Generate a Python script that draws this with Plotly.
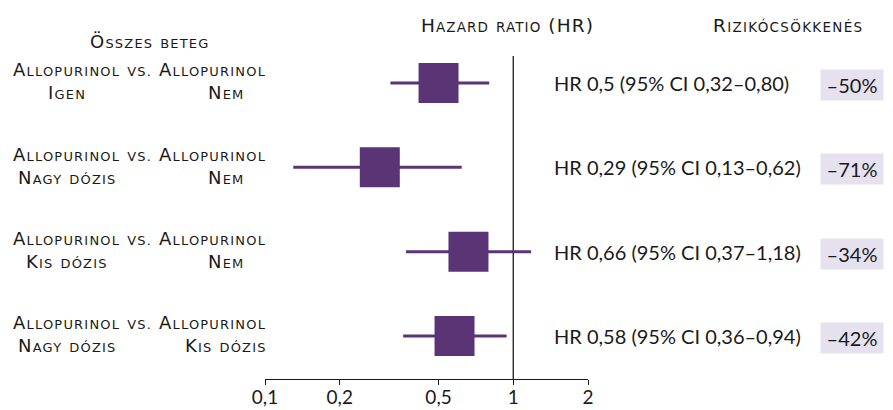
import re
import plotly.graph_objects as go

# ---- data ----
row_titles = ["Allopurinol vs. Allopurinol"] * 4
group_a = ["Igen", "Nagy dózis", "Kis dózis", "Nagy dózis"]
group_b = ["Nem", "Nem", "Nem", "Kis dózis"]
hr = [0.5, 0.29, 0.66, 0.58]
ci_lo = [0.32, 0.13, 0.37, 0.36]
ci_hi = [0.80, 0.62, 1.18, 0.94]
hr_labels = ["HR 0,5 (95% CI 0,32–0,80)",
             "HR 0,29 (95% CI 0,13–0,62)",
             "HR 0,66 (95% CI 0,37–1,18)",
             "HR 0,58 (95% CI 0,36–0,94)"]
reduction = ["–50%", "–71%", "–34%", "–42%"]
tick_vals = [0.1, 0.2, 0.5, 1, 2]
tick_text = ["0,1", "0,2", "0,5", "1", "2"]
row_pos = [4, 3, 2, 1]

SC_FONT = "DejaVu Sans"
TX_FONT = "Lato"
PURPLE = "#5b3476"
INK = "#1a1a1a"

OFF = 8  # page body margin
W, H = 893 - OFF, 410 - OFF
# plot-area edges in page pixels
L, R, T, B = 265, 588, 56, 379


def px(xp):
    return (xp - L) / (R - L)


def py(yp):
    return (B - yp) / (B - T)


def smallcaps(text, small=13, ls=1.2):
    out = []
    for m in re.finditer(r"[a-záéíóöőúüű.]+|[^a-záéíóöőúüű.]+", text):
        s = m.group(0)
        if re.match(r"[a-záéíóöőúüű.]", s):
            out.append(f'<span style="font-size:{small}px;letter-spacing:{ls}px">'
                       f'{s.upper()}</span>')
        else:
            out.append(f'<span style="letter-spacing:{ls}px">{s}</span>')
    return "".join(out)


fig = go.Figure()

# reference line at HR = 1
fig.add_trace(go.Scatter(x=[1, 1], y=[0.49, 4.32], mode="lines",
                         line=dict(color=INK, width=1.3), hoverinfo="skip",
                         showlegend=False, cliponaxis=False))

fig.add_trace(go.Scatter(
    x=hr, y=row_pos, mode="markers",
    marker=dict(symbol="square", size=40, color=PURPLE, line=dict(width=0)),
    error_x=dict(type="data", symmetric=False,
                 array=[h - x for x, h in zip(hr, ci_hi)],
                 arrayminus=[x - l for x, l in zip(hr, ci_lo)],
                 thickness=3, width=0, color=PURPLE),
    showlegend=False, cliponaxis=False))

ann = []
sc_big, sc_small = 18, 13
for i, y in enumerate(row_pos):
    ann.append(dict(x=px(139), y=y, yshift=13, xref="paper", yref="y",
                    text=smallcaps(row_titles[i], sc_small), showarrow=False,
                    xanchor="center", yanchor="middle",
                    font=dict(size=sc_big, color=INK, family=SC_FONT)))
    ann.append(dict(x=px(67), y=y, yshift=-10, xref="paper", yref="y",
                    text=smallcaps(group_a[i], sc_small), showarrow=False,
                    xanchor="center", yanchor="middle",
                    font=dict(size=sc_big, color=INK, family=SC_FONT)))
    ann.append(dict(x=px(226), y=y, yshift=-10, xref="paper", yref="y",
                    text=smallcaps(group_b[i], sc_small), showarrow=False,
                    xanchor="center", yanchor="middle",
                    font=dict(size=sc_big, color=INK, family=SC_FONT)))
    ann.append(dict(x=px(552), y=y, xref="paper", yref="y",
                    text=hr_labels[i], showarrow=False,
                    xanchor="left", yanchor="middle",
                    font=dict(size=20, color=INK, family=TX_FONT)))
    ann.append(dict(x=px(852), y=y, yshift=-2, xref="paper", yref="y",
                    text=reduction[i], showarrow=False,
                    xanchor="center", yanchor="middle",
                    width=60, height=28, bgcolor="#e6e1ef", align="center",
                    font=dict(size=20, color=INK, family=TX_FONT)))

ann.append(dict(x=px(150), y=py(42), xref="paper", yref="paper",
                text=smallcaps("Összes beteg", sc_small), showarrow=False,
                xanchor="center", yanchor="middle",
                font=dict(size=sc_big, color=INK, family=SC_FONT)))
ann.append(dict(x=px(507), y=py(25), xref="paper", yref="paper",
                text=smallcaps("Hazard ratio (HR)", 13.5, 1.1), showarrow=False,
                xanchor="center", yanchor="middle",
                font=dict(size=18.5, color=INK, family=SC_FONT)))
ann.append(dict(x=px(788), y=py(25), xref="paper", yref="paper",
                text=smallcaps("Rizikócsökkenés", 13.5, 1.3), showarrow=False,
                xanchor="center", yanchor="middle",
                font=dict(size=18.5, color=INK, family=SC_FONT)))

fig.update_layout(
    width=W, height=H,
    margin=dict(l=L - OFF, r=W - (R - OFF), t=T - OFF, b=H - (B - OFF), pad=0,
                autoexpand=False),
    paper_bgcolor="white", plot_bgcolor="white",
    font=dict(family=TX_FONT, color=INK),
    annotations=ann,
    xaxis=dict(type="log", range=[-1, 0.30103], tickvals=tick_vals,
               ticktext=tick_text, showline=True, linecolor=INK, linewidth=1.3,
               ticks="outside", ticklen=5, tickwidth=1.3, tickcolor=INK,
               showgrid=False, zeroline=False, automargin=False,
               ticklabelstandoff=-4,
               tickfont=dict(size=19, color=INK, family=TX_FONT)),
    yaxis=dict(range=[0.49, 4.32], visible=False, showgrid=False,
               zeroline=False, automargin=False),
)

fig.write_html("out.html")
